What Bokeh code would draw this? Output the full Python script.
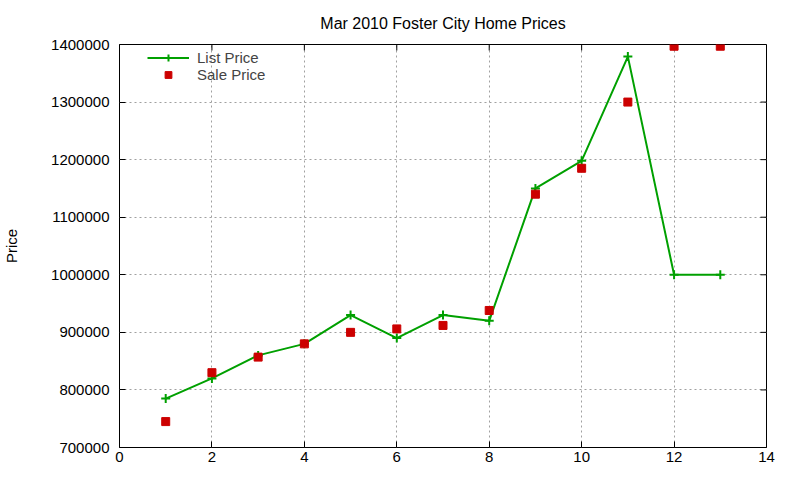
import math

from bokeh.embed import file_html
from bokeh.resources import INLINE
from bokeh.models import LinearAxis, FixedTicker, Range1d, Legend, LegendItem
from bokeh.plotting import figure

FONT = "Liberation Sans"
GREEN = "#00a000"
RED = "#cc0000"

# values
homes = [1, 2, 3, 4, 5, 6, 7, 8, 9, 10, 11, 12, 13]
list_price = [785000, 820000, 860000, 880000, 930000, 890000, 930000,
              920000, 1150000, 1198000, 1379000, 1000000, 1000000]
sale_price = [745000, 830000, 857000, 880000, 900000, 906000, 912000,
              938000, 1140000, 1185000, 1300000, 1397000, 1397000]
x_ticks = [0, 2, 4, 6, 8, 10, 12, 14]
y_ticks = [700000, 800000, 900000, 1000000, 1100000, 1200000, 1300000, 1400000]

X_MAX = x_ticks[-1]
Y_MAX = y_ticks[-1]

p = figure(width=784, height=464, output_backend="svg", toolbar_location=None,
           x_range=Range1d(x_ticks[0], X_MAX), y_range=Range1d(y_ticks[0], Y_MAX),
           min_border_left=119, min_border_top=0, min_border_right=18,
           min_border_bottom=14, x_axis_location=None, y_axis_location=None)

p.title.text = "Mar 2010 Foster City Home Prices"
p.title.align = "center"
p.title.text_font = FONT
p.title.text_font_size = "16px"
p.title.text_font_style = "normal"
p.title.text_color = "#000000"
p.title.standoff = 25

p.outline_line_color = "#000000"
p.outline_line_width = 1
p.background_fill_color = "white"
p.border_fill_color = "white"


def make_axis(ticks, label=None):
    ax = LinearAxis(ticker=FixedTicker(ticks=ticks))
    ax.major_tick_in = 6
    ax.major_tick_out = 0
    ax.minor_tick_line_color = None
    ax.axis_line_color = None
    ax.major_tick_line_color = "#000000"
    ax.major_label_standoff = 4
    ax.major_label_text_font = FONT
    ax.major_label_text_font_size = "15px"
    ax.major_label_text_color = "#000000"
    if label:
        ax.axis_label = label
        ax.axis_label_text_font = FONT
        ax.axis_label_text_font_size = "15px"
        ax.axis_label_text_font_style = "normal"
        ax.axis_label_text_color = "#000000"
        ax.axis_label_standoff = 28
    return ax


p.add_layout(make_axis(x_ticks), "below")
p.add_layout(make_axis(y_ticks, label="Price"), "left")
p.yaxis[0].formatter.use_scientific = False
p.yaxis[0].major_label_standoff = 10

# gnuplot mirrors the ticks on the top and right edges
p.ray(x=X_MAX, y=y_ticks, length=6, length_units="screen", angle=math.pi,
      line_color="#000000", line_width=1)
p.ray(x=x_ticks, y=Y_MAX, length=6, length_units="screen", angle=-math.pi / 2,
      line_color="#000000", line_width=1)

p.xgrid.ticker = FixedTicker(ticks=x_ticks)
p.ygrid.ticker = FixedTicker(ticks=y_ticks)
for g in (p.xgrid, p.ygrid):
    g.grid_line_color = "#a0a0a0"
    g.grid_line_dash = "2 3"
    g.grid_line_width = 1

line = p.line(homes, list_price, color=GREEN, line_width=2)
cross = p.scatter(homes, list_price, marker="cross", size=9, line_color=GREEN,
                  line_width=2)
sq = p.scatter(homes, sale_price, marker="square", size=8, fill_color=RED,
               line_color=RED)

legend = Legend(items=[LegendItem(label="List Price", renderers=[line, cross]),
                       LegendItem(label="Sale Price", renderers=[sq])],
                location=(28, 364))
legend.border_line_color = None
legend.background_fill_alpha = 0
legend.label_text_font = FONT
legend.label_text_font_size = "15px"
legend.glyph_width = 42
legend.glyph_height = 17
legend.label_height = 17
legend.spacing = 0
legend.padding = 2
legend.margin = 0
legend.label_standoff = 8
p.add_layout(legend)

open("out.html", "w").write(file_html(p, INLINE))
